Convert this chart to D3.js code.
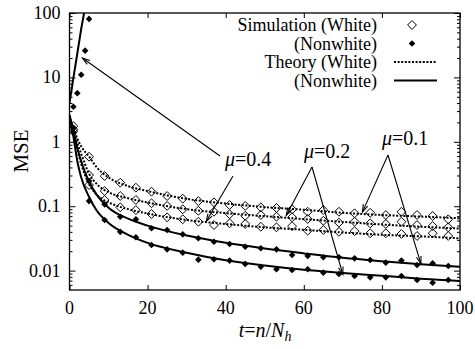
<!DOCTYPE html>
<html>
<head>
<meta charset="utf-8">
<script src="https://cdn.jsdelivr.net/npm/d3@7"></script>
<style>
  body { margin: 0; background: #fff; }
  svg { display: block; }
</style>
</head>
<body>
<div id="chart"></div>
<script>
// simulation sample times (every 4th step)
var simT = [1, 5, 9, 13, 17, 21, 25, 29, 33, 37, 41, 45, 49, 53, 57, 61, 65, 69, 73, 77, 81, 85, 89, 93, 97];

// simulation MSE, white input
var simWhite01 = [1.75, 0.587, 0.294, 0.232, 0.194, 0.168, 0.144, 0.131, 0.120, 0.115, 0.1045, 0.101, 0.096, 0.094, 0.0895, 0.082, 0.087, 0.082, 0.0776, 0.079, 0.073, 0.082, 0.073, 0.0705, 0.0627];
var simWhite02 = [1.55, 0.305, 0.172, 0.144, 0.125, 0.111, 0.101, 0.0895, 0.085, 0.082, 0.075, 0.071, 0.073, 0.0687, 0.0673, 0.0633, 0.0595, 0.0555, 0.0575, 0.0542, 0.053, 0.0575, 0.051, 0.0493, 0.047];
var simWhite04 = [1.45, 0.213, 0.125, 0.096, 0.087, 0.0757, 0.0673, 0.0627, 0.0574, 0.051, 0.0542, 0.053, 0.048, 0.047, 0.049, 0.0417, 0.0427, 0.040, 0.041, 0.038, 0.038, 0.037, 0.0345, 0.038, 0.0345];

// simulation MSE, nonwhite input
var simNon01 = [1.65, 0.246, 0.107, 0.0687, 0.0627, 0.0454, 0.0427, 0.0366, 0.0318, 0.0281, 0.0259, 0.0235, 0.0222, 0.0214, 0.0175, 0.0169, 0.0161, 0.0161, 0.0155, 0.0146, 0.0133, 0.0143, 0.0122, 0.0130, 0.0118];
var simNon02 = [1.4, 0.12, 0.061, 0.040, 0.0329, 0.025, 0.0214, 0.019, 0.0148, 0.015, 0.0143, 0.0127, 0.0115, 0.0105, 0.0102, 0.0105, 0.0093, 0.00885, 0.00824, 0.00787, 0.00787, 0.00824, 0.00714, 0.00649, 0.00714];
var simNon04T = [1, 2, 3, 4, 5];
var simNon04 = [3.5, 5.7, 11, 26, 81];

// theory curves
var theoryT = [0, 1, 2, 3, 5, 7, 10, 15, 20, 30, 40, 50, 60, 70, 80, 90, 100];
var thWhite01 = [2.3, 1.6, 1.13, 0.85, 0.59, 0.40, 0.28, 0.205, 0.172, 0.13, 0.11, 0.097, 0.088, 0.079, 0.073, 0.069, 0.065];
var thWhite02 = [2.2, 1.5, 0.95, 0.65, 0.32, 0.22, 0.165, 0.133, 0.114, 0.09, 0.078, 0.07, 0.063, 0.057, 0.052, 0.048, 0.045];
var thWhite04 = [2.0, 1.3, 0.75, 0.45, 0.22, 0.15, 0.115, 0.09, 0.077, 0.061, 0.053, 0.047, 0.043, 0.039, 0.036, 0.034, 0.0317];
var thNon01 = [2.6, 1.5, 0.8, 0.5, 0.24, 0.15, 0.095, 0.064, 0.05, 0.035, 0.027, 0.022, 0.0185, 0.0158, 0.0140, 0.0126, 0.0115];
var thNon02 = [2.6, 1.2, 0.5, 0.28, 0.14, 0.085, 0.055, 0.036, 0.027, 0.019, 0.0145, 0.012, 0.0103, 0.0092, 0.0083, 0.0075, 0.0069];
var thNon04T = [0, 1, 2, 3, 3.8];
var thNon04 = [4.0, 9.8, 23.5, 57, 105];

var xTicks = [0, 20, 40, 60, 80, 100];
var yTicks = [0.01, 0.1, 1, 10, 100];
var yTickLabels = ["0.01", "0.1", "1", "10", "100"];
var legendLabels = ["Simulation (White)", "(Nonwhite)", "Theory (White)", "(Nonwhite)"];

var FONT = "'Liberation Serif'";
var width = 475, height = 349;
var pLeft = 69.5, pRight = 460, pTop = 13, pBottom = 290;

var svg = d3.select("#chart").append("svg")
  .attr("width", width)
  .attr("height", height);

var x = d3.scaleLinear().domain([0, 100]).range([pLeft, pRight]);
var y = d3.scaleLog().domain([0.005, 100]).range([pBottom, pTop]);

// minor log ticks
var yMinor = [];
[0.001, 0.01, 0.1, 1, 10].forEach(function(d) {
  for (var k = 2; k <= 9; k++) {
    var v = d * k;
    if (v > 0.005 && v < 100) yMinor.push(v);
  }
});

svg.append("defs").append("clipPath").attr("id", "clip")
  .append("rect")
  .attr("x", pLeft).attr("y", pTop)
  .attr("width", pRight - pLeft).attr("height", pBottom - pTop);

function addText(g, str) {
  return g.append("text").style("font-family", FONT).text(str);
}

function styleAxis(g) {
  g.select(".domain").remove();
  g.selectAll(".tick line").attr("stroke", "#000").attr("stroke-width", 1);
  g.selectAll(".tick text").remove();
}

svg.append("g")
  .attr("transform", "translate(0," + pBottom + ")")
  .call(d3.axisBottom(x).tickValues(xTicks).tickSize(-5))
  .call(styleAxis);

svg.append("g")
  .attr("transform", "translate(0," + pTop + ")")
  .call(d3.axisTop(x).tickValues(xTicks).tickSize(-5))
  .call(styleAxis);

svg.append("g")
  .attr("transform", "translate(" + pLeft + ",0)")
  .call(d3.axisLeft(y).tickValues(yTicks).tickSize(-6))
  .call(styleAxis);

svg.append("g")
  .attr("transform", "translate(" + pLeft + ",0)")
  .call(d3.axisLeft(y).tickValues(yMinor).tickSize(-3))
  .call(styleAxis);

svg.append("g")
  .attr("transform", "translate(" + pRight + ",0)")
  .call(d3.axisRight(y).tickValues(yTicks).tickSize(-6))
  .call(styleAxis);

svg.append("g")
  .attr("transform", "translate(" + pRight + ",0)")
  .call(d3.axisRight(y).tickValues(yMinor).tickSize(-3))
  .call(styleAxis);

// tick labels placed with the scales
var tl = svg.append("g");
xTicks.forEach(function(v) {
  addText(tl, String(v)).attr("x", x(v)).attr("y", 314)
    .attr("text-anchor", "middle").style("font-size", "18px");
});
yTicks.forEach(function(v, i) {
  addText(tl, yTickLabels[i]).attr("x", pLeft - 9).attr("y", y(v) + 6)
    .attr("text-anchor", "end").style("font-size", "18px");
});

// frame
svg.append("rect")
  .attr("x", pLeft).attr("y", pTop)
  .attr("width", pRight - pLeft).attr("height", pBottom - pTop)
  .attr("fill", "none").attr("stroke", "#000").attr("stroke-width", 1.3);

var plot = svg.append("g").attr("clip-path", "url(#clip)");

var line = d3.line()
  .x(function(d) { return x(d[0]); })
  .y(function(d) { return y(d[1]); })
  .curve(d3.curveMonotoneX);

function zip(ts, vs) { return ts.map(function(t, i) { return [t, vs[i]]; }); }

[thWhite01, thWhite02, thWhite04].forEach(function(s) {
  plot.append("path")
    .attr("d", line(zip(theoryT, s)))
    .attr("fill", "none").attr("stroke", "#000")
    .attr("stroke-width", 2).attr("stroke-dasharray", "2,1.6");
});

[thNon01, thNon02].forEach(function(s) {
  plot.append("path")
    .attr("d", line(zip(theoryT, s)))
    .attr("fill", "none").attr("stroke", "#000").attr("stroke-width", 2);
});

plot.append("path")
  .attr("d", d3.line().x(function(d) { return x(d[0]); }).y(function(d) { return y(d[1]); })(zip(thNon04T, thNon04)))
  .attr("fill", "none").attr("stroke", "#000").attr("stroke-width", 2);

var openSym = d3.symbol().type(d3.symbolDiamond2).size(50);
var fillSym = d3.symbol().type(d3.symbolDiamond2).size(28);

[simWhite01, simWhite02, simWhite04].forEach(function(s) {
  plot.selectAll(null).data(zip(simT, s)).enter().append("path")
    .attr("transform", function(d) { return "translate(" + x(d[0]) + "," + y(d[1]) + ")"; })
    .attr("d", openSym)
    .attr("fill", "none").attr("stroke", "#000").attr("stroke-width", 1);
});

[zip(simT, simNon01), zip(simT, simNon02), zip(simNon04T, simNon04)].forEach(function(pts) {
  plot.selectAll(null).data(pts).enter().append("path")
    .attr("transform", function(d) { return "translate(" + x(d[0]) + "," + y(d[1]) + ")"; })
    .attr("d", fillSym)
    .attr("fill", "#000");
});

// legend
var legend = svg.append("g");
var legY = [25, 43.5, 62, 80.5];
legendLabels.forEach(function(lab, i) {
  addText(legend, lab)
    .attr("x", 377).attr("y", legY[i] + 6)
    .attr("text-anchor", "end")
    .style("font-size", "18px");
});
legend.append("path").attr("transform", "translate(412," + legY[0] + ")")
  .attr("d", openSym).attr("fill", "none").attr("stroke", "#000").attr("stroke-width", 1);
legend.append("path").attr("transform", "translate(412," + legY[1] + ")")
  .attr("d", fillSym).attr("fill", "#000");
legend.append("line").attr("x1", 394).attr("x2", 437).attr("y1", legY[2]).attr("y2", legY[2])
  .attr("stroke", "#000").attr("stroke-width", 2).attr("stroke-dasharray", "2,1.6");
legend.append("line").attr("x1", 394).attr("x2", 437).attr("y1", legY[3]).attr("y2", legY[3])
  .attr("stroke", "#000").attr("stroke-width", 2);

// annotations: mu labels with arrows (tip given in data coords)
var notes = [
  { label: "0.4", tx: 225, ty: 166, arrows: [[220, 156, 3.3, 20], [233, 176, 35, 0.058]] },
  { label: "0.2", tx: 304, ty: 158, arrows: [[312, 167, 55.5, 0.072], [312, 167, 70, 0.0087]] },
  { label: "0.1", tx: 382, ty: 145, arrows: [[388, 155, 75, 0.081], [388, 155, 90, 0.0127]] }
];

function arrow(g, x1, y1, x2, y2) {
  g.append("line").attr("x1", x1).attr("y1", y1).attr("x2", x2).attr("y2", y2)
    .attr("stroke", "#000").attr("stroke-width", 1.1);
  var a = Math.atan2(y2 - y1, x2 - x1), L = 8, w = 0.3;
  var p1 = [x2 - L * Math.cos(a - w), y2 - L * Math.sin(a - w)];
  var p2 = [x2 - L * Math.cos(a + w), y2 - L * Math.sin(a + w)];
  g.append("path")
    .attr("d", "M" + p1 + "L" + x2 + "," + y2 + "L" + p2)
    .attr("fill", "none").attr("stroke", "#000").attr("stroke-width", 1.1);
}

var ann = svg.append("g");
notes.forEach(function(n) {
  var t = addText(ann, null).attr("x", n.tx).attr("y", n.ty).style("font-size", "20px");
  t.append("tspan").style("font-style", "italic").text("μ");
  t.append("tspan").text("=" + n.label);
  n.arrows.forEach(function(a) { arrow(ann, a[0], a[1], x(a[2]), y(a[3])); });
});

// axis titles
addText(svg, "MSE")
  .attr("transform", "translate(28,151) rotate(-90)")
  .attr("text-anchor", "middle")
  .style("font-size", "21px");

var xt = addText(svg, null)
  .attr("x", 265).attr("y", 337)
  .attr("text-anchor", "middle")
  .style("font-size", "20px");
xt.append("tspan").style("font-style", "italic").text("t");
xt.append("tspan").text("=");
xt.append("tspan").style("font-style", "italic").text("n");
xt.append("tspan").text("/");
xt.append("tspan").style("font-style", "italic").text("N");
xt.append("tspan").style("font-style", "italic").style("font-size", "14px").attr("dy", 4).text("h");
</script>
</body>
</html>
